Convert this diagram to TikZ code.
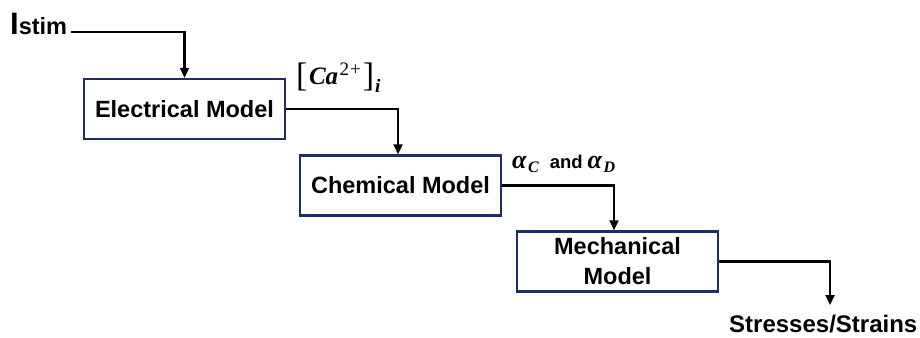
\documentclass[tikz,border=0pt]{standalone}
\usepackage{fontspec}
\setmainfont{Liberation Sans}
\newfontfamily\myserif{Liberation Serif}
\usetikzlibrary{arrows.meta}
\definecolor{boxblue}{HTML}{1F3060}
\newcommand{\mycalabel}{\myserif{\fontsize{34}{34}\selectfont\raisebox{-2pt}{[}}\hspace{1.5pt}{\fontsize{25}{25}\selectfont\bfseries\itshape Ca}\hspace{1.5pt}\raisebox{8.5pt}{\fontsize{19}{19}\selectfont 2\hspace{1pt}+}\hspace{2pt}{\fontsize{34}{34}\selectfont\raisebox{-2pt}{]}}\hspace{1pt}\raisebox{-9pt}{\fontsize{19}{19}\selectfont\bfseries\itshape i}}
\newcommand{\myalpha}[1]{{\myserif\fontsize{26}{26}\selectfont\bfseries\itshape α}\hspace{1.5pt}\raisebox{-4pt}{\myserif\fontsize{16}{16}\selectfont\bfseries\itshape #1}}
\newcommand{\myalphalabel}{\myalpha{C}\hspace{11pt}{\bfseries\fontsize{18.5}{20}\selectfont and}\hspace{5pt}\myalpha{D}}
\newcommand{\myistim}{\bfseries{\fontsize{31}{31}\selectfont I}{\fontsize{23.5}{25}\selectfont stim}}
\begin{document}
\begin{tikzpicture}[x=1pt,y=1pt,
  box/.style={draw=boxblue, line width=2.5pt, fill=white, inner sep=0pt,
    font=\bfseries\fontsize{23.5}{30}\selectfont, align=center,
    minimum width=201pt, minimum height=60pt},
  conn/.style={line width=2.3pt, -{Triangle[length=10pt,width=9pt]}},
  lbl/.style={inner sep=0pt, anchor=base west}]
\useasboundingbox (0,0) rectangle (920,-337);
\node[box] (elec) at (184.5,-109) {Electrical Model};
\node[box] (chem) at (400.5,-185.5) {Chemical Model};
\node[box] (mech) at (617.5,-261.5) {Mechanical\\Model};
\node[lbl] (istim) at (10,-35) {\myistim};
\node[lbl] (calbl) at (296,-84) {\mycalabel};
\node[lbl] (alphalbl) at (512,-168) {\myalphalabel};
\node[lbl, font=\bfseries\fontsize{24}{26}\selectfont] (stress) at (729,-332) {Stresses/Strains};
\coordinate (outend) at (830,-305);
\draw[conn] ([shift={(4pt,3pt)}]istim.base east) -| (elec.north);
\draw[conn] (elec.east) -| ([xshift=-2.5pt]chem.north);
\draw[conn] (chem.east) -| ([xshift=-3.5pt]mech.north);
\draw[conn] (mech.east) -| (outend);
\end{tikzpicture}
\end{document}
